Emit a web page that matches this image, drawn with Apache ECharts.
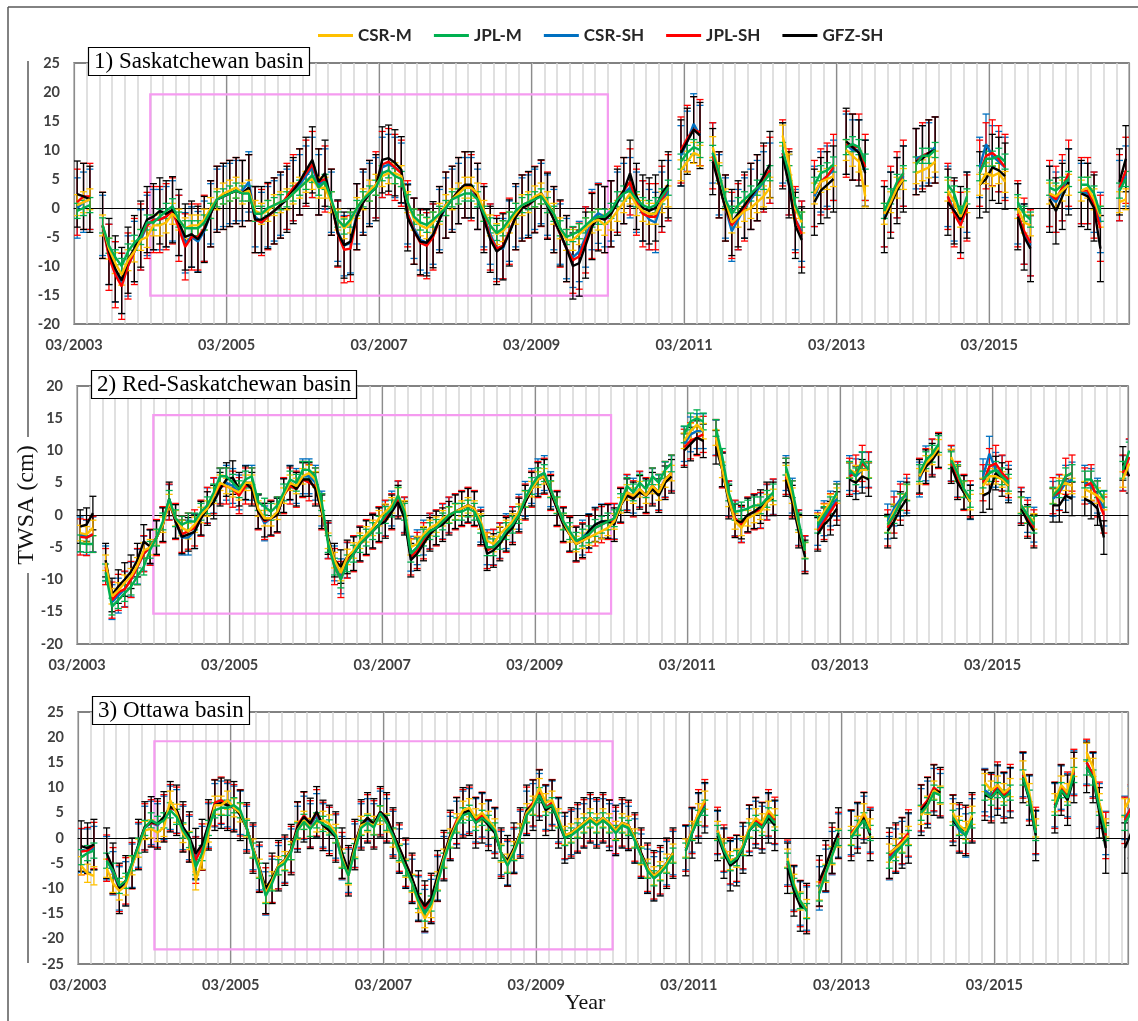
<!DOCTYPE html>
<html><head><meta charset="utf-8">
<script src="https://cdn.jsdelivr.net/npm/echarts@6/dist/echarts.min.js"></script>
<style>html,body{margin:0;padding:0;background:#fff}#c{width:1138px;height:1021px}</style>
</head><body><div id="c"></div>
<script>
// ---------------- DATA ----------------
const seriesNames = ['CSR-M','JPL-M','CSR-SH','JPL-SH','GFZ-SH'];
const seriesColors = ['#FFC000','#00B050','#0070C0','#FF0000','#000000'];
const xTickLabels = ['03/2003','03/2005','03/2007','03/2009','03/2011','03/2013','03/2015'];
const panelTitles = ['1) Saskatchewan basin','2) Red-Saskatchewan basin','3) Ottawa basin'];
// highlight boxes: [fromMonth, toMonth, low, high]
const highlight1 = [12, 84, -15.1, 19.6];
const highlight2 = [12, 84, -15.3, 15.5];
const highlight3 = [12, 84, -22.1, 19.2];
// uncertainty (cm) per series [CSR-M, JPL-M, CSR-SH, JPL-SH, GFZ-SH]
const err1 = [1.8, 1.3, 5.2, 5.7, 5.7];
const err2 = [1.2, 1.3, 2.7, 2.8, 2.6];
const err3 = [1.8, 1.5, 4.3, 4.6, 5.0];

// Monthly values from 03/2003 (index 0), null = missing month
// Panel 1: Saskatchewan
const sask_CSRM = [0.5,1,1.5,null,-3,-7,-9.5,-11.5,-9,-7.5, -5.5,-5,-3,-3,-2.5,-1,-2,-3.5,-3,-3, -2,0,1.5,2.5,3,3.5,2.5,3,-0.5,-1, -0.5,0.5,1,1.5,2.5,3.5,4.5,5,3.5,3.5, 1,-2,-3.5,-2.5,0,1.5,3,4,5.5,6, 6,5.5,1,-2,-3,-3.5,-2.5,-1,0.5,1.5, 2.5,3.5,3.5,2.5,-0.5,-3,-4.5,-4,-2.5,-1, 0.5,1,2,2.5,1,-1,-3.5,-5.5,-5.5,-4.5, -3.5,-2.5,-2,-2.9,-2,-0.5,1,2.5,0.5,-0.5, -1,-1,1,2,null,6.5,8,9.5,9,null, 10.5,6,1.5,-2.5,-1.5,-0.5,0,1,2,3.5, null,12.5,7.5,0,-2.5,null,2.5,4.5,5,5.5, null,10,9,8,2,null,null,-1,1,3.5, 5,null,6,6.5,7,8,null,3,1,-1.5, 1,null,4,6,5.5,6,4.5,null,0,-2.5, -3,null,null,2.5,2,3,4,null,3,3.5, 1.5,-1.5,null,null,1,1.5];
const sask_JPLM = [-0.5,0,0.5,null,-3,-6.5,-8.5,-10,-7.5,-6, -5,-2.5,-2.5,-1.5,-0.5,0.3,-2,-3.5,-3.5,-3.5, -2.5,-0.5,1.5,2,2.5,3,2.5,2.5,-1,-1, 0,0.5,1,1.5,2.5,3.5,4.5,5.7,3.5,4.5, 1.5,-2,-3.2,-2,0,1.5,2.5,3.5,6,6.5, 5.5,5,1,-1.5,-2.5,-2.9,-2,-1,0,1.5, 2,2.5,2.5,1.5,-1,-3,-4.3,-3.5,-2,-0.5, 0.5,1,1.5,2,0.5,-1,-3.5,-5,-4.5,-4, -3,-2,-1.5,-1.5,-0.5,1.5,2.5,3,1.5,0.5, 0,0.5,2,3.5,null,8,9.5,10.5,10,null, 9.5,6,1.5,-1,0.5,1.5,2.5,3.5,4.5,6, null,10,6,0.5,-2,null,4,6,6.5,7.5, null,10.5,11,10.5,8,null,null,-0.5,2,4.5, 6,null,7.5,9,9,10,null,4,2.5,-1, 2,null,6,8.5,8.5,9,8,null,1,-1, -2,null,null,3.5,3,4,5,null,4,4, 2.5,-1,null,null,3,5];
const sask_CSRSH = [0,1,1.5,null,-3,-8,-11,-13,-10,-7.5, -5.5,-3,-2,-2,-1.5,-0.5,-3,-6,-5,-5.8, -4,-1,1.5,2,2.5,3,3,4.5,-1.5,-2.5, -1.5,-0.5,0.5,1.5,3,4,5.5,7,4,5, 1,-4,-6.5,-6,-1,1,2.5,3.5,7,7.5, 7,6,-1,-3.5,-5.5,-6,-4.5,-2,0,1.5, 2.5,3.5,3.5,1.5,-1.5,-4.5,-7,-7,-4,-1.5, 0,0.5,1.5,2.5,0.5,-2,-4.5,-7,-8.5,-7.5, -5,-2,-0.9,-1.5,-0.5,1,2.5,3.5,1,-0.5, -2,-2.5,1,3,null,9,11.5,14.5,12.5,null, 9.5,4,0,-4,-2,0,1.5,3,4.5,6, null,9.5,4,-2,-4,null,2,4.5,5.5,6.5, null,11,10,10,6.5,null,null,-1.5,1,3.5, 5.5,null,8.5,9,9.5,10.5,null,2,-0.5,-2.5, 1,null,7,11,9,8,7,null,-1,-4.5, -6.5,null,null,2,1,3,5,null,2.5,2.5, 1,-2.5,null,null,3,5.5];
const sask_JPLSH = [1,2,2,null,-3,-8.5,-11.5,-13.5,-10,-7.5, -5,-3,-2,-2,-1.5,-0.5,-3.5,-6.7,-5,-5, -3.5,-1,1.5,2,2.5,3,2.5,3.5,-2,-2.5, -1.5,-0.5,0.5,2,3.5,4.5,6,7.5,4.5,5, 1,-4.5,-7.2,-7,-1.5,1,2.5,4,7.5,8, 7,6,-1,-4,-6,-6.5,-5,-2,0.5,1.5, 3,4,3.5,2,-1.5,-5,-7,-6.5,-4,-1.5, 0,0.5,1.5,2.5,0.5,-2,-4.5,-7,-9,-8.3, -5.5,-3,-1.5,-2,-1,1.5,3,4.5,1,-1, -1.5,-1.5,1.5,3.5,null,10,12,13.5,13,null, 9,4,0,-3,-1.5,0,2,3.5,5,6.5, null,9.5,4.5,-2,-4.5,null,2.5,4.5,5.5,7, null,11,10.5,10.5,7,null,null,-1,1.5,4, 6,null,8,9,9.5,10,null,2,-1,-3, 0,null,6,9,9.5,8.5,7,null,-1,-4, -6,null,null,2.5,1.5,3.5,6,null,3,3, 0.5,-3.5,null,null,3.5,6.5];
const sask_GFZSH = [2.4,2,1.5,null,-3,-7.5,-10.5,-12.5,-9,-7, -4.5,-2,-1.5,-0.5,-1,-0.3,-2.5,-5,-4.5,-5.4, -3.7,-1,1.5,2,2.5,3,2.5,3.5,-2,-2, -1.3,-0.5,0.5,1.5,3,4.5,6.5,8.3,4.5,6, 1,-4.3,-6.4,-5.8,-1.5,1,2.5,3.5,8.3,8.6, 7.8,6.6,-1.7,-4,-5.8,-6,-4.6,-2,0.5,1.5, 3,4,4,2,-2,-5.4,-7.5,-6.7,-4.3,-1.5, 0,0.6,1.4,2.6,0.3,-2,-4.3,-7,-10,-9.5, -6.4,-3.2,-1.7,-2,-1,1,3,6,2,0, -0.5,0,2.5,4,null,9.5,11.5,13.5,12.5,null, 8,4,0,-2.5,-1,0.5,2,3.5,5.5,7.5, null,9,4,-3,-5.5,null,1,3,4,5, null,11.5,10.5,9.5,6,null,null,-2,0.5,3, 5,null,8,8.5,9.5,10,null,1,-0.5,-2, 0.5,null,4,5,7,6.5,5.5,null,-1.5,-5, -7,null,null,1.5,-0.5,2,4.5,null,2.5,2, 0,-7,null,null,4.5,8.5];

// Panel 2: Red-Saskatchewan
const redsask_CSRM = [-2.8,-3,-2,null,-7.4,-12.6,-11.7,-10.5,-9.5,-7.8, -5.5,-5,-3.5,-1.5,2,-0.5,-2,-2.5,-1.5,0, 1,3,5,4.5,4,3.5,5,5,1,-0.5, -0.5,0.5,3,5,4.5,6,6.5,5.5,1,-4, -7,-9,-6.5,-5.5,-4,-3,-2,-0.5,0.5,1.5, 3,1,-5,-4.5,-3,-2,-1.5,-0.5,0,0.5, 1,1.5,1,-1,-4,-4.5,-3,-2,-1,0.5, 2.5,4,5.5,6,4,1.5,-1,-3,-4.5,-4, -3.5,-3,-2.5,-2,-1,1.5,3.5,3,4,3, 4.5,3.5,5.5,6.5,null,11.5,13,14,13,null, 12,7,2.5,-1,-2,-0.5,0,0.5,2,2.8, null,6.5,3,-1.5,-5.5,null,-1,0.5,2,3, null,7,6.5,7,7,null,null,-1.5,0.5,2, 3.5,null,6,8,9,10.5,null,9,6.5,4, 2,null,4.5,6,6,5.5,4.5,null,1.5,0, -1,null,null,3,4.5,5,4.5,null,4,3.5, 3,2,null,null,5.5,8];
const redsask_JPLM = [-4.4,-4.5,-4.5,null,-8.9,-14.2,-13.2,-12.1,-11.1,-9.5, -8,-5.4,-3.5,-1,2.5,-0.5,-1.5,-1,-1,0.5, 1.5,3.5,6,6,5,4,5.5,6,2,1.3, 0.5,1.5,3.5,5.5,5,7,7,6,2,-4.5, -8,-10,-7.5,-6,-4.5,-3.5,-2.5,-1.5,0,1, 3,0.5,-6,-5,-3.5,-2.5,-2,-1,0,0.5, 0.5,1,0.5,-1.5,-5,-5,-4,-2.5,-1.5,0, 2.5,4.5,6,6.5,4,1.5,-1,-2.5,-4,-3.5, -3,-2,-1.5,-1,-0.5,2,4.5,3.5,5,4, 6,5,7,8,null,12.5,14.5,15,14.5,null, 13.5,9,3.5,0.5,0.7,1,1.5,1.5,2.5,3.5, null,7.5,4,-1,-5.5,null,-1.5,0,1.5,3.5, null,7,6,8.5,7,null,null,-1.5,0,2, 3.5,null,6.5,8.5,9.5,11,null,8.5,6.5,4, 2.5,null,5.5,6.5,7,6,5,null,1.5,0, -1.5,null,null,3,4,6,6.5,null,5.5,5.5, 4,2.5,null,null,7,10];
const redsask_CSRSH = [-3,-3.5,-3,null,-7.5,-13.5,-12.5,-11.5,-10,-8, -6,-5,-3.5,-1.5,2,-1,-3.5,-3.5,-2.5,-0.5, 1.5,3,4.5,5,4.5,3.5,5,5,0.5,-1.3, -0.5,0,3,5,4.5,6,6,5,1,-4, -7.5,-9.5,-7,-6,-4.5,-3.5,-2.5,-1.5,-0.5,1, 2.5,0,-6,-5,-3.5,-2.5,-2,-1,0,0.5, 1,1.5,1,-1.5,-5,-5,-4,-2.5,-1.5,0.5, 2.5,4.5,6,6.5,4,1,-1.5,-3,-4.5,-3.5, -2.5,-1.5,-1,-1,-1,1.5,3.5,3,4,3, 4.5,3.5,5.5,6.5,null,11,12.5,13,13,null, 12,7,2.5,-0.5,-1.5,0,0.5,0.7,2,2.8, null,6.5,3,-2,-6,null,-2,-0.5,1,2.5, null,6.5,6,7,7,null,null,-1,1,2.5, 3,null,5.5,8,9,10,null,8,5.5,3.5, 2,null,6,9.5,7,6.5,5,null,1.5,0, -1.5,null,null,2.5,3.5,5,5.5,null,5,4.5, 3,1,null,null,6.5,9];
const redsask_JPLSH = [-3.4,-3.5,-3,null,-8,-13.2,-12,-11.5,-10,-8, -6,-5,-3.5,-1.5,2,-1,-3,-2.5,-2,-0.5, 1.5,3,4.5,4.5,4,3,4.5,4.5,0.5,-1, -0.5,0,3,4.5,4,5.5,5,4.5,0.5,-4, -8,-10,-7,-6,-4.5,-3.5,-2.5,-1.5,-0.5,0.5, 2.5,0,-6.5,-5.5,-4,-2.5,-2,-1,0,0.5, 1,1.5,1,-2,-5.5,-5,-4,-3,-1.5,0, 2,4,5.5,6,3.5,1,-1.5,-3,-4.5,-4, -3,-2,-1.5,-1,-1,1.5,3.5,2.5,4,3, 4.5,3.5,5.5,6.5,null,10.5,11.5,12,12.5,null, 12,7,2.5,-0.5,-1.5,0,0.5,0.7,2,2.8, null,6,2.5,-2,-6,null,-2.5,-1,0.5,2, null,6,6.5,8,7,null,null,-2,0,2, 3.5,null,6,7.5,9,10,null,8,5.5,3.5, 2.5,null,5,7.5,8,6.5,5.5,null,1.5,-0.5, -2,null,null,3,3.5,6,6.5,null,4.5,5, 2.5,0,null,null,6.5,9];
const redsask_GFZSH = [-1.8,-1.5,0.3,null,-7,-12.4,-11.1,-10,-8.8,-7, -4.1,-4.9,-3.5,-1.5,2.5,-1,-3.4,-3,-2.6,-0.5, 1,2,4,5.5,5.8,4,5,4,0.5,-0.8, -0.5,0,3,5,4,5.5,5.5,4,0.5,-3.5, -7,-8,-6.5,-6,-4.5,-3.5,-2.5,-1.5,-1,0.5, 2,-0.5,-7,-6,-4.5,-3,-2,-1.5,-0.5,0.5, 1,1.5,1,-2,-6,-5.5,-4.5,-3,-2,0, 2,4,5.5,6,3.5,1,-1.5,-3,-4.5,-4, -2.5,-1.5,-1,-1,-1.5,1.5,3,2.5,3.5,3, 4,3,5,6,null,10,11,12,11.5,null, 10.5,7,2,-0.9,-1.1,0,0.5,1.3,2.5,2.5, null,5.5,2,-2.5,-6.5,null,-3,-1.5,-0.5,1, null,5.5,5,6,5.5,null,null,-2.5,-1,1, 2.5,null,6,7.5,8.5,10,null,7.5,5,3.5, 2,null,3,3.5,6.5,5.5,4.5,null,1,-1, -2.5,null,null,1.5,1.5,3,2.5,null,2.5,2, 1,-3.5,null,null,8,6];

// Panel 3: Ottawa
const ottawa_CSRM = [-5.5,-7,-7.5,null,-6,-9,-10.5,-9.5,-5.5,-2, 1.5,1.8,1.1,2.1,7.5,4.9,0.9,-0.5,-8.5,-4.4, 1,6.5,6.5,7.5,6,5,2,-2,-6,-11, -8.5,-5.5,-4.5,-2.5,1.5,3.5,2.1,3,3.5,2.8, 0.9,-4,-7.5,-2,2.5,3,2.5,4.5,3,0, -3,-6,-9,-13,-16,-14,-8.5,-4,0,3, 5.5,6,4,5,3.5,2,-3,-5,-2.5,1, 5,6.5,10,7,7.5,4,0.5,1,2,3, 4,3,4,3,1.5,3,2.5,0,-3.5,-6, -7.5,-6.5,-5,-3,null,-2,1.5,5,7.5,null, 1.5,-2,-4.5,-4,-1.5,2,4,3,5.5,4, null,-4,-9,-12.5,-14,null,-10.5,-7,-3.5,0, null,0.5,2.5,5,2,null,null,-3,-2,-1, 0.5,null,4.5,6.5,9.5,8.5,null,5,2.5,1.5, 4.5,null,11,9.5,10.5,9,10,null,13.5,9, 2,null,null,7,10.5,9,14,null,17,14, 7,2,null,null,6,8];
const ottawa_JPLM = [-3.8,-3,-2.5,null,-4.5,-6.5,-9.5,-8.5,-5,-1.5, 2,3.5,2.8,3.5,5.5,4.2,1.5,-0.4,-5.8,-3, 2,5.5,6,6,6.5,5.5,2,-2.5,-6.5,-11.5, -9,-5.8,-5,-2.8,1.5,3.2,1.8,3.5,2.8,2.1, 0.5,-4.5,-7.5,-2.6,2,3,2.1,4.9,3,0.5, -3,-6,-9,-12.5,-15,-13,-9,-4.5,-0.5,2.5, 4.5,5,3,4,3,1.5,-3,-5.5,-3,0.5, 4.5,6,8.5,6,6.5,3.5,0,0.5,1.5,2.5, 3.5,2.5,3.5,2.5,1,2.5,2,-0.5,-3.5,-6.5, -8,-7,-5.5,-3.5,null,-2.5,1,4,6,null, 1,-2.5,-5,-4,-2,1.5,3,2,4.5,3, null,-4.5,-9.5,-12.5,-14.5,null,-11,-7,-3.5,0, null,0,2,3.5,1,null,null,-4.5,-3,-1.5, 0,null,5,6.5,9,8.5,null,4,2,0.5, 3.5,null,9,8,9.5,8,9,null,12,8, 1,null,null,6,9.5,8,12.5,null,14,12, 6,1,null,null,3,5];
const ottawa_CSRSH = [-2.5,-2.5,-2,null,-4,-7,-10,-9,-5.5,-1.5, 2,3,2.5,4,6,5.3,2,0,-4,-2, 2.5,6.5,7,6.5,6,5,2,-2,-6,-11, -8.5,-5.8,-4.5,-2.5,2,4,2.5,4.5,2.5,1.8, 0.3,-4,-6.5,-1.5,2.5,3.5,2.5,5,3.5,1, -2.5,-5.5,-8.5,-12,-14.5,-12.5,-8,-4,0,3, 5,5.5,3.5,4.5,3,1.5,-3,-5,-2.5,1, 5,6.5,8.5,6,7,3.5,0,1,1.5,2.5, 3.5,3,3.5,2.5,1,2.5,2,-0.5,-3.5,-6.5, -8,-7,-5,-3,null,-2,1.5,4.5,6.5,null, 1,-2.5,-5,-4.5,-2,1.5,3,2,4.5,3, null,-5,-10,-13,-14,null,-10,-6.5,-3,0.5, null,1,2.5,4,1.5,null,null,-4,-2.5,-1, 0.5,null,5.5,7,9.5,8.5,null,3.5,1.5,0.5, 3.5,null,9.5,8.5,10,8.5,9.5,null,12.5,8, 1,null,null,6.5,10,8.5,13,null,15,12.5, 6.5,1,null,null,4,6];
const ottawa_JPLSH = [-2.7,-2.5,-1.5,null,-4,-6.5,-10,-8.5,-5.5,-1.5, 2.2,3,2.7,4,6,5.5,2,0,-4.4,-1.8, 2.5,7,7.5,6.5,6,5,2,-2,-6,-10.5, -8.2,-5.5,-4.4,-2.3,2.5,4.5,2.8,5,2.5,1.5, 0.2,-3.5,-6.5,-1.3,2.6,4,2.8,5.2,4,1, -2,-5,-8,-12,-14,-12,-8,-3.5,0.5,3.5, 5,5.5,3.5,4.5,3,1.5,-3,-5,-2.5,1, 5.5,7,9,6,7,3.5,0.5,1,2,3, 4,3,4,3,1.5,3,2.5,0,-3,-6, -7.5,-6.5,-5,-3,null,-2,1.5,5,7,null, 1.5,-2,-4.5,-4,-1.5,2,3.5,2.5,5,3.5, null,-5,-10,-13,-14,null,-9,-6,-2.5,0.5, null,1,2.5,4.5,1.5,null,null,-3.5,-2,-0.5, 1,null,6,7.5,10,9,null,4,2,1.5, 4,null,9,8,10.5,8.5,10,null,12.5,8, 1.5,null,null,6.5,10,8.5,13,null,15,12.5, 6.5,0.5,null,null,3.5,6];
const ottawa_GFZSH = [-1.6,-2,-1.3,null,-3,-6,-10,-8.5,-5,-1.3, 2.2,3.2,2.8,4.2,6.2,5.5,2.2,0.2,-3.1,-1.3, 2.6,6.5,6.9,6.5,6.2,4.5,2,-2,-5.8,-10, -8,-5.5,-4.4,-2.3,2.2,4.2,2.9,5.2,2.5,1.5, 0.2,-3,-6.5,-1.3,2.6,4,2.8,5.2,4,1, -2,-5,-8,-11.5,-13.5,-12,-7.5,-3.5,0.5,3, 5,5.5,3,4,2.5,1,-3,-4.5,-2,1, 5.5,6.5,8.5,5.5,6.5,3,0,1,2,3, 4,3,4,2.5,1.5,3,2.5,0,-3,-6, -7.5,-6.5,-5,-3,null,-2.5,1,4,6,null, 0.5,-3,-5.5,-4.5,-2,1.5,3,2,4,2.5, null,-6,-10.5,-13.5,-14,null,-8.5,-5.5,-2,1, null,0.5,2,4,0.5,null,null,-3,-2,-1, 0,null,5.5,7,9.5,9,null,3.5,2,1.5, 4,null,8.5,8,9.5,8,9,null,12,7.5, 0.5,null,null,6,9.5,7.5,12,null,14,12, 5,-2,null,null,-2,1];

// ---------------- CHART ----------------
const panels = [
  {vals:[sask_CSRM,sask_JPLM,sask_CSRSH,sask_JPLSH,sask_GFZSH], err:err1, box:highlight1, ymin:-20, ymax:25, xmax:166,
   grid:{left:74, top:63, width:1055, height:261}},
  {vals:[redsask_CSRM,redsask_JPLM,redsask_CSRSH,redsask_JPLSH,redsask_GFZSH], err:err2, box:highlight2, ymin:-20, ymax:20, xmax:165.3,
   grid:{left:77, top:386, width:1051, height:258}},
  {vals:[ottawa_CSRM,ottawa_JPLM,ottawa_CSRSH,ottawa_JPLSH,ottawa_GFZSH], err:err3, box:highlight3, ymin:-25, ymax:25, xmax:165,
   grid:{left:78, top:712, width:1050, height:252}}
];
const drawOrder = [2,3,4,0,1]; // blue, red, black, yellow, green (green on top)
const labelFont = 'Lato, "Liberation Sans", sans-serif';
const serifFont = '"Liberation Serif", "Times New Roman", serif';

const grids=[], xAxes=[], yAxes=[], series=[], titles=[];
panels.forEach((p, pi) => {
  grids.push(Object.assign({show:true, borderColor:'#595959', borderWidth:1.5, backgroundColor:'transparent'}, p.grid));
  xAxes.push({type:'value', gridIndex:pi, min:0, max:p.xmax, interval:2,
    axisLine:{show:false, onZero:false}, axisTick:{show:false},
    axisLabel:{margin:14, color:'#404040', fontFamily:labelFont, fontWeight:'bold', fontSize:14.5, showMaxLabel:false,
      formatter:v => (v % 24 === 0 ? (xTickLabels[v/24] || '') : '')},
    splitLine:{show:true, lineStyle:{color:'#d6d6d6', width:1.5}}});
  xAxes.push({type:'value', gridIndex:pi, min:0, max:p.xmax, interval:24, position:'top',
    axisLine:{show:true, onZero:true, lineStyle:{color:'#000', width:1}}, axisTick:{show:false}, axisLabel:{show:false},
    splitLine:{show:true, lineStyle:{color:'#8c8c8c', width:1.2}}});
  yAxes.push({type:'value', gridIndex:pi, min:p.ymin, max:p.ymax, interval:5,
    axisLine:{show:false}, axisTick:{show:false}, splitLine:{show:false},
    axisLabel:{margin:14, color:'#404040', fontFamily:labelFont, fontWeight:'bold', fontSize:14.5}});
  titles.push({text:panelTitles[pi], left:p.grid.left+14, top:p.grid.top-16, padding:[3,6,3,6],
    backgroundColor:'#fff', borderColor:'#000', borderWidth:1.2,
    textStyle:{fontFamily:serifFont, fontWeight:'normal', fontSize:23, color:'#000'}});
  drawOrder.forEach((si, k) => {
    const vals = p.vals[si], e = p.err[si], color = seriesColors[si];
    const errData = [];
    vals.forEach((v,i) => { if (v !== null) errData.push([i+0.5, v-e, v+e]); });
    series.push({type:'custom', name:seriesNames[si], xAxisIndex:pi*2, yAxisIndex:pi, z:2, clip:true,
      itemStyle:{color}, data:errData, encode:{x:0, y:[1,2]}, silent:true,
      renderItem:(params, api) => {
        const x = api.value(0);
        const a = api.coord([x, api.value(1)]), b = api.coord([x, api.value(2)]);
        const w = 3.5, st = {stroke:color, lineWidth:1.3};
        return {type:'group', children:[
          {type:'line', shape:{x1:a[0],y1:a[1],x2:b[0],y2:b[1]}, style:st},
          {type:'line', shape:{x1:a[0]-w,y1:a[1],x2:a[0]+w,y2:a[1]}, style:st},
          {type:'line', shape:{x1:b[0]-w,y1:b[1],x2:b[0]+w,y2:b[1]}, style:st}]};
      }});
  });
  drawOrder.forEach((si, k) => {
    const vals = p.vals[si];
    const s = {type:'line', name:seriesNames[si], xAxisIndex:pi*2, yAxisIndex:pi, z:3+k*0.01,
      data: vals.map((v,i) => [i+0.5, v === null ? '-' : v]),
      showSymbol:false, symbol:'none', connectNulls:false, clip:true,
      lineStyle:{color:seriesColors[si], width:2.4}, itemStyle:{color:seriesColors[si]}};
    if (k === 0) {
      s.markArea = {silent:true, itemStyle:{color:'rgba(0,0,0,0)', borderColor:'#F59BF0', borderWidth:2.2},
        data:[[{xAxis:p.box[0], yAxis:p.box[2]},{xAxis:p.box[1], yAxis:p.box[3]}]]};
    }
    series.push(s);
  });
});

const chart = echarts.init(document.getElementById('c'), null, {renderer:'canvas'});
chart.setOption({
  animation:false,
  backgroundColor:'#fff',
  title:titles,
  legend:{left:313, top:22, itemWidth:35, itemHeight:3, itemGap:22, icon:'rect',
    data:seriesNames.map((n,i)=>({name:n, itemStyle:{color:seriesColors[i]}})),
    textStyle:{fontFamily:labelFont, fontWeight:'bold', fontSize:17, color:'#262626'}},
  grid:grids, xAxis:xAxes, yAxis:yAxes, series:series,
  graphic:[
    {type:'line', shape:{x1:8, y1:7, x2:1138, y2:7}, style:{stroke:'#595959', lineWidth:1.5}, silent:true},
    {type:'line', shape:{x1:8, y1:7, x2:8, y2:1021}, style:{stroke:'#595959', lineWidth:1.5}, silent:true},
    {type:'line', shape:{x1:28, y1:61, x2:28, y2:437}, style:{stroke:'#595959', lineWidth:1.5}, silent:true},
    {type:'line', shape:{x1:28, y1:573, x2:28, y2:963}, style:{stroke:'#595959', lineWidth:1.5}, silent:true},
    {type:'text', x:27, y:505, rotation:Math.PI/2, silent:true,
      style:{text:'TWSA (cm)', fontFamily:serifFont, fontSize:24, fill:'#111', textAlign:'center', textVerticalAlign:'middle', verticalAlign:'middle'}},
    {type:'text', x:585, y:1003, silent:true,
      style:{text:'Year', fontFamily:serifFont, fontSize:22, fill:'#111', textAlign:'center', textVerticalAlign:'middle', verticalAlign:'middle'}}
  ]
});
</script></body></html>
